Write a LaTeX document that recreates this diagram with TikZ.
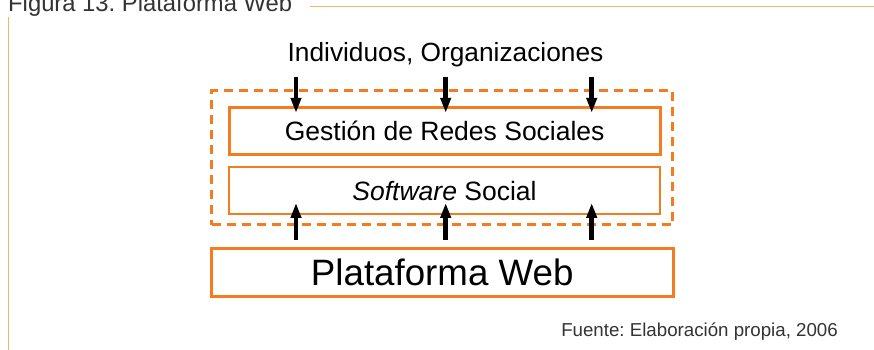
\documentclass[tikz,border=0pt]{standalone}
\usepackage{fontspec}
\setmainfont{Liberation Sans}
\usetikzlibrary{arrows.meta}
\definecolor{naranja}{HTML}{F47B20}
\definecolor{marco}{HTML}{F9B460}
\definecolor{gris}{HTML}{333333}
\frenchspacing
\begin{document}
\begin{tikzpicture}[
    x=1pt, y=-1pt,
    caja/.style={rectangle, draw=naranja, line width=2.8pt, minimum width=431pt, minimum height=47pt, inner sep=0pt, text height=19pt, text depth=0pt, font=\fontsize{26.5}{31}\selectfont},
    grupo/.style={rectangle, draw=naranja, line width=2.8pt, dash pattern=on 9pt off 6pt, minimum width=461pt, minimum height=134pt},
    flecha/.style={-{Triangle[length=15pt,width=10pt]}, line width=4.5pt}
]
    \useasboundingbox (0,0) rectangle (874,350);

    % marco de la figura
    \node[anchor=base west, inner sep=0pt, text=gris, font=\fontsize{23.8}{28}\selectfont] (titulo) at (8,11.7) {Figura 13. Plataforma Web};
    \draw[marco, line width=1.5pt] (310,6.5) -- (874,6.5);
    \draw[marco, line width=1.5pt] (8.3,17) -- (8.3,350);

    \node[grupo] (grupo) at (442.3,157.8) {};
    \node[caja] (gestion) at (444.7,130.8) {Gestión de Redes Sociales};
    \node[caja] (software) at (444.5,190.5) {\textit{Software} Social};
    \node[caja, minimum width=462pt, minimum height=47.5pt, text height=26pt, font=\fontsize{36.7}{42}\selectfont] (plataforma) at (442.2,272.5) {Plataforma Web};

    \node[anchor=base, font=\fontsize{26.3}{31}\selectfont] (actores) at (445.5,61.7) {Individuos, Organizaciones};
    \node[anchor=base east, inner sep=0pt, text=gris, font=\fontsize{18.7}{23}\selectfont] (fuente) at (838,336.7) {Fuente: Elaboración propia, 2006};

    \foreach \px in {296,445.7,591.7} {
        \coordinate (arriba) at (\px,76.7);
        \draw[flecha, shorten >=-7pt] (arriba) -- (arriba |- gestion.north);
        \coordinate (abajo) at (\px,240);
        \draw[flecha, shorten >=-12.5pt] (abajo) -- (abajo |- software.south);
    }
\end{tikzpicture}
\end{document}
